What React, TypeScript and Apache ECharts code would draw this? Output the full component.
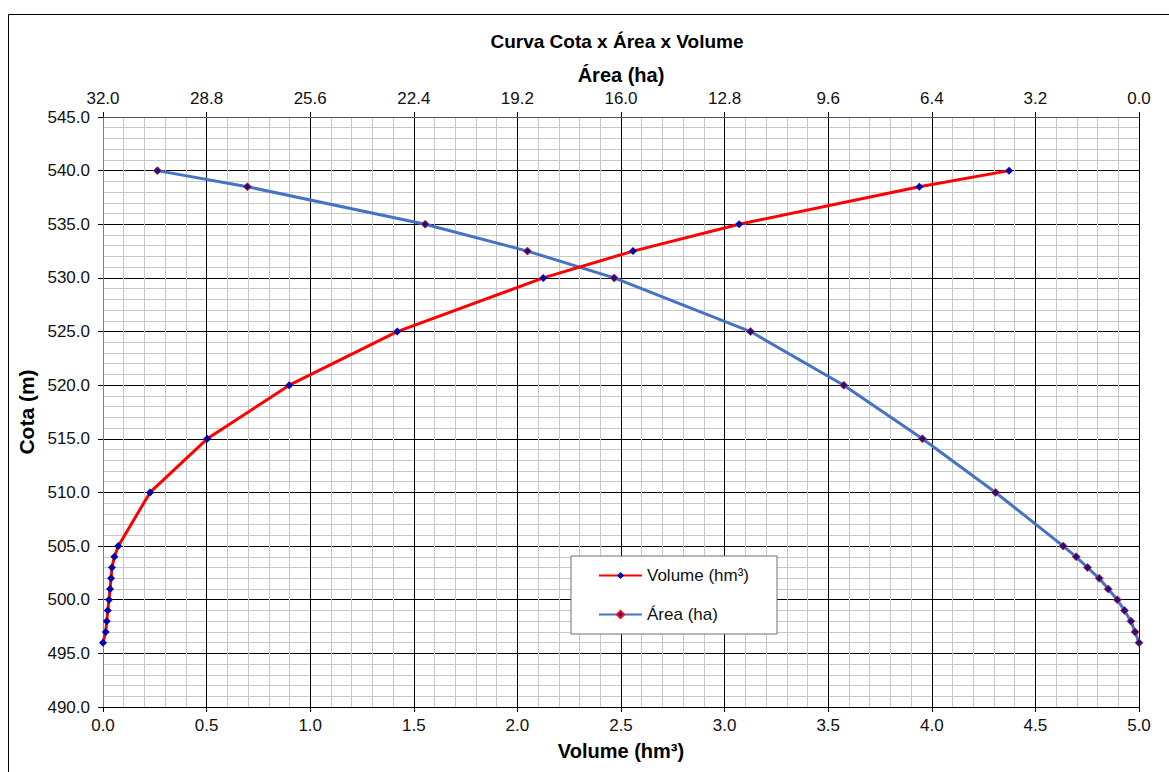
import React, { useEffect, useRef } from "react";
import * as echarts from "echarts";

const cota = [496, 497, 498, 499, 500, 501, 502, 503, 504, 505, 510, 515, 520, 525, 530, 532.5, 535, 538.5, 540];
const volume = [0.0, 0.013, 0.018, 0.023, 0.029, 0.034, 0.039, 0.043, 0.055, 0.074, 0.227, 0.503, 0.899, 1.42, 2.125, 2.558, 3.07, 3.94, 4.373];
const area = [0.0, 0.12, 0.25, 0.45, 0.67, 0.95, 1.23, 1.59, 1.94, 2.34, 4.43, 6.69, 9.12, 12.0, 16.21, 18.89, 22.05, 27.54, 30.32];

const FONT = 'Arial, "Liberation Sans", sans-serif';

export default function App() {
  const ref = useRef<HTMLDivElement>(null);
  useEffect(() => {
    document.body.style.margin = "0";
    const chart = echarts.init(ref.current!, null, { renderer: "svg" });
    const volData = cota.map((c, i) => [volume[i], c]);
    const areaData = cota.map((c, i) => [area[i], c]);
    const labelStyle = { color: "#111", fontSize: 17, fontFamily: FONT };
    const nameStyle = { color: "#000", fontSize: 20, fontWeight: "bold" as const, fontFamily: FONT };
    chart.setOption({
      animation: false,
      backgroundColor: "#fff",
      graphic: [
        {
          type: "rect",
          shape: { x: 8.5, y: 14.5, width: 1170, height: 770 },
          style: { fill: "none", stroke: "#000", lineWidth: 1 },
          silent: true,
        },
        {
          type: "text",
          x: 617,
          y: 41,
          style: {
            text: "Curva Cota x Área x Volume",
            fill: "#000",
            font: 'bold 19px Arial, "Liberation Sans", sans-serif',
            align: "center",
            verticalAlign: "middle",
          },
          silent: true,
        },
      ],
      grid: { left: 103, right: 30, top: 117, bottom: 65 },
      legend: {
        orient: "vertical",
        left: 571,
        top: 556,
        data: ["Volume (hm³)", "Área (ha)"],
        backgroundColor: "#fff",
        borderColor: "#6f6f6f",
        borderWidth: 1,
        padding: [11, 28, 11, 27],
        itemGap: 22,
        itemWidth: 43,
        itemHeight: 9,
        textStyle: { color: "#111", fontSize: 17, fontFamily: FONT },
      },
      xAxis: [
        {
          type: "value",
          position: "bottom",
          min: 0,
          max: 5,
          interval: 0.5,
          name: "Volume (hm³)",
          nameLocation: "middle",
          nameGap: 34,
          nameTextStyle: nameStyle,
          axisLabel: { ...labelStyle, margin: 10, formatter: (v: number) => v.toFixed(1) },
          axisLine: { lineStyle: { color: "#000", width: 1 } },
          axisTick: { show: true, length: 5, lineStyle: { color: "#000" } },
          minorTick: { show: true, splitNumber: 5, length: 0 },
          splitLine: { show: true, lineStyle: { color: "#000", width: 1 } },
          minorSplitLine: { show: true, lineStyle: { color: "#c8c8c8", width: 1 } },
        },
        {
          type: "value",
          position: "top",
          inverse: true,
          min: 0,
          max: 32,
          interval: 3.2,
          name: "Área (ha)",
          nameLocation: "middle",
          nameGap: 29,
          nameTextStyle: nameStyle,
          axisLabel: { ...labelStyle, margin: 10, formatter: (v: number) => v.toFixed(1) },
          axisLine: { lineStyle: { color: "#555", width: 1 } },
          axisTick: { show: true, length: 5, lineStyle: { color: "#000" } },
          splitLine: { show: false },
        },
      ],
      yAxis: {
        type: "value",
        min: 490,
        max: 545,
        interval: 5,
        name: "Cota (m)",
        nameLocation: "middle",
        nameGap: 63,
        nameTextStyle: { ...nameStyle, fontSize: 21 },
        axisLabel: { ...labelStyle, margin: 13, formatter: (v: number) => v.toFixed(1) },
        axisLine: { show: true, lineStyle: { color: "#808080", width: 1 } },
        axisTick: { show: true, length: 5, lineStyle: { color: "#000" } },
        minorTick: { show: true, splitNumber: 5, length: 0 },
        splitLine: { show: true, lineStyle: { color: "#000", width: 1 } },
        minorSplitLine: { show: true, lineStyle: { color: "#c8c8c8", width: 1 } },
      },
      series: [
        {
          name: "Área (ha)",
          type: "line",
          xAxisIndex: 1,
          data: areaData,
          smooth: false,
          symbol: "diamond",
          symbolSize: 8,
          lineStyle: { color: "#4472C4", width: 3 },
          itemStyle: { color: "#14148c", borderColor: "#ff1010", borderWidth: 0.8 },
          z: 2,
        },
        {
          name: "Volume (hm³)",
          type: "line",
          xAxisIndex: 0,
          data: volData,
          smooth: false,
          symbol: "diamond",
          symbolSize: 8,
          lineStyle: { color: "#ff0000", width: 3 },
          itemStyle: { color: "#0000b0", borderWidth: 0 },
          z: 3,
        },
      ],
    });
    return () => chart.dispose();
  }, []);
  return <div ref={ref} style={{ width: 1169, height: 772 }} />;
}
